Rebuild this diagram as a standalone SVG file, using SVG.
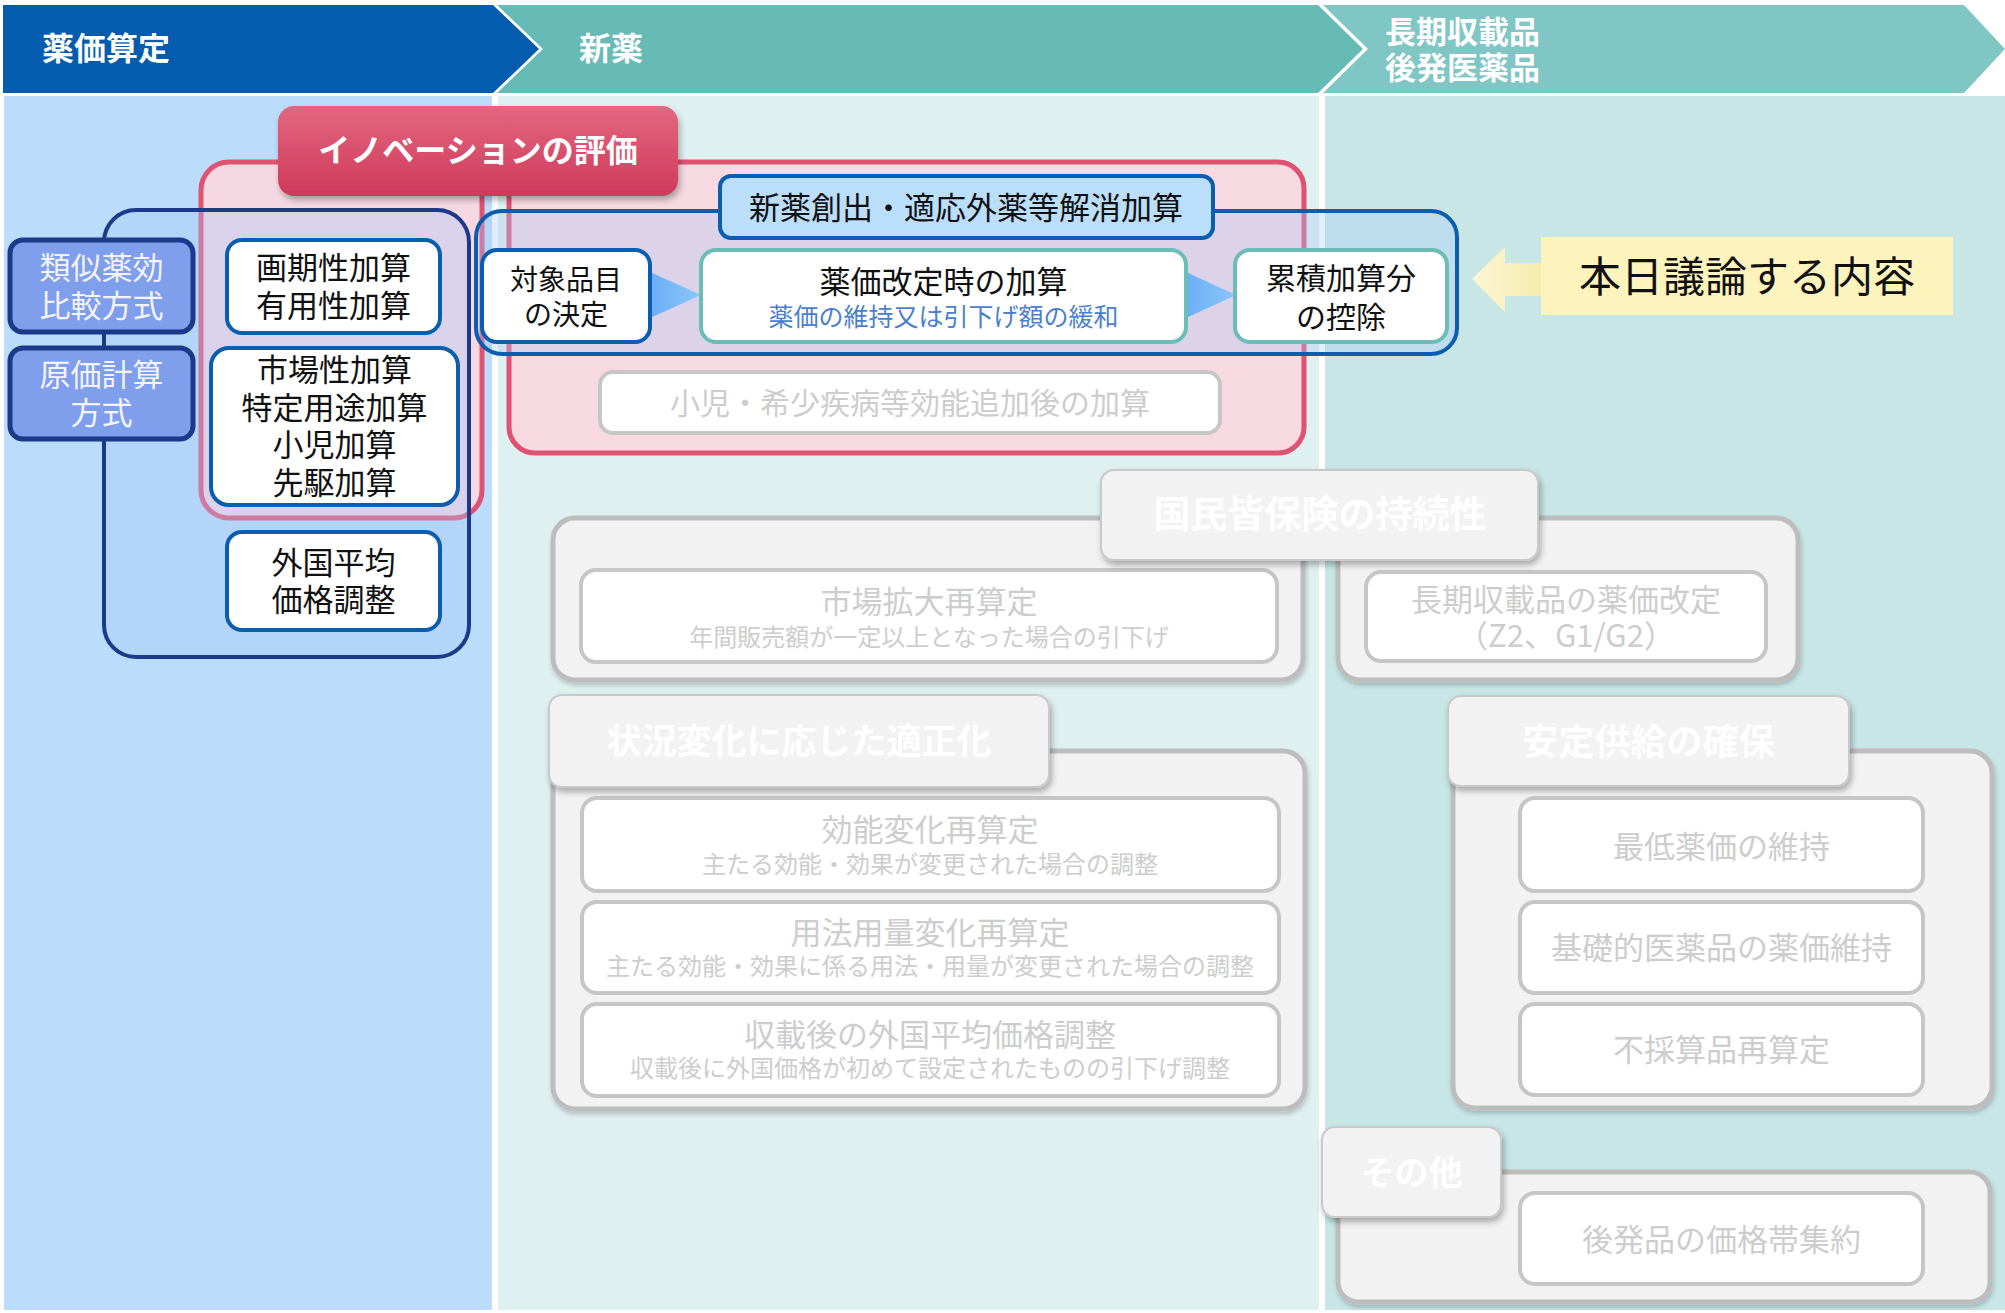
<svg xmlns="http://www.w3.org/2000/svg" width="2005" height="1313" viewBox="0 0 2005 1313">
<defs>
<style>
text{font-family:"Noto Sans CJK JP","Noto Sans",sans-serif;text-anchor:middle;}
.hd{fill:#fff;font-weight:bold;text-anchor:start;}
.b{font-weight:bold;}
.blk{fill:#111;}
.wt{fill:#f4f4ff;}
.gr{fill:#cdcdcd;}
.tabt{fill:#ffffff;font-weight:bold;}
.wbox{fill:#fff;stroke:#0b5dae;stroke-width:4;}
.tbox{fill:#fff;stroke:#6cbcb8;stroke-width:4;}
.nbox{fill:#7f9eec;stroke:#1b3a8a;stroke-width:5;}
.gbig{fill:#f2f2f2;stroke:#bdbdbd;stroke-width:5;}
.gin{fill:#fff;stroke:#c6c6c6;stroke-width:4;}
.tab{fill:#f2f2f2;stroke:#c9c9c9;stroke-width:2;}
.pink{stroke:#e05272;stroke-width:5;}
.bgrp{fill:rgba(170,200,250,0.35);}
</style>
<linearGradient id="redg" x1="0" y1="0" x2="0" y2="1">
<stop offset="0" stop-color="#e2677f"/>
<stop offset="1" stop-color="#d0395b"/>
</linearGradient>
<linearGradient id="blueArr" x1="0" y1="0" x2="1" y2="0">
<stop offset="0" stop-color="#6aaef5"/>
<stop offset="1" stop-color="#8cc6fb"/>
</linearGradient>
<linearGradient id="yelArr" x1="0" y1="0" x2="1" y2="0">
<stop offset="0" stop-color="#fbf6d6"/>
<stop offset="1" stop-color="#f6ecac"/>
</linearGradient>
<filter id="sh" x="-10%" y="-10%" width="125%" height="135%">
<feDropShadow dx="2" dy="4" stdDeviation="3" flood-color="#000" flood-opacity="0.3"/>
</filter>
<filter id="shs" x="-5%" y="-5%" width="112%" height="115%">
<feDropShadow dx="1" dy="3" stdDeviation="2" flood-color="#000" flood-opacity="0.2"/>
</filter>
</defs>
<rect x="0" y="0" width="2005" height="1313" fill="#ffffff"/>

<g id="columns">
<rect x="4" y="96" width="488" height="1214" fill="#bbdcfa"/>
<rect x="498" y="96" width="821" height="1214" fill="#dff0f0"/>
<rect x="1325" y="96" width="680" height="1214" fill="#c8e6e6"/>
</g>

<g id="header">
<g id="hdr-yakka">
<polygon points="3,5 493,5 539,49 493,93 3,93" fill="#045cae"/>
<text class="hd" x="42" y="60" font-size="32">薬価算定</text>
</g>
<g id="hdr-shinyaku">
<polygon points="497,5 1318,5 1363,49 1318,93 497,93 543,49" fill="#67bbb7"/>
<text class="hd" x="579" y="60" font-size="32">新薬</text>
</g>
<g id="hdr-choki">
<polygon points="1323,5 1964,5 2005,49 1964,93 1323,93 1368,49" fill="#80c6c4"/>
<text class="hd" x="1385" y="43" font-size="31">長期収載品</text>
<text class="hd" x="1385" y="79" font-size="31">後発医薬品</text>
</g>
</g>

<g id="innovation-areas">
<rect id="pink-left" class="pink" x="201" y="162" width="281" height="356" rx="28" fill="#f5d8e2"/>
<rect id="pink-mid" class="pink" x="509" y="162" width="795" height="291" rx="26" fill="#f7d9e2"/>
</g>

<g id="group-left">
<rect class="bgrp" x="104" y="210" width="365" height="447" rx="32" stroke="#1b3a8a" stroke-width="4"/>
</g>
<g id="group-mid">
<rect class="bgrp" x="476" y="211" width="981" height="143" rx="26" stroke="#0b5dae" stroke-width="4"/>
</g>

<g id="connectors">
<polygon points="650,272 701,295 650,318" fill="url(#blueArr)"/>
<polygon points="1186,272 1236,295 1186,318" fill="url(#blueArr)"/>
<polygon points="1472,279 1505,247 1505,263 1541,263 1541,296 1505,296 1505,312" fill="url(#yelArr)"/>
</g>

<g id="node-innovation">
<rect x="278" y="106" width="400" height="90" rx="16" fill="url(#redg)" filter="url(#sh)"/>
<text class="b" x="478" y="162" font-size="32" fill="#fff">イノベーションの評価</text>
</g>

<g id="node-ruiji">
<rect class="nbox" x="10" y="240" width="183" height="92" rx="13"/>
<text class="wt" x="101.5" y="279" font-size="31">類似薬効</text>
<text class="wt" x="101.5" y="317" font-size="31">比較方式</text>
</g>
<g id="node-genka">
<rect class="nbox" x="10" y="348" width="183" height="91" rx="13"/>
<text class="wt" x="101.5" y="386" font-size="31">原価計算</text>
<text class="wt" x="101.5" y="424" font-size="31">方式</text>
</g>
<g id="node-kakki">
<rect class="wbox" x="227" y="240" width="213" height="93" rx="15"/>
<text class="blk" x="333.5" y="279" font-size="31">画期性加算</text>
<text class="blk" x="333.5" y="317" font-size="31">有用性加算</text>
</g>
<g id="node-shijosei">
<rect class="wbox" x="211" y="348" width="247" height="157" rx="18"/>
<text class="blk" x="334.5" y="381" font-size="31">市場性加算</text>
<text class="blk" x="334.5" y="419" font-size="31">特定用途加算</text>
<text class="blk" x="334.5" y="456" font-size="31">小児加算</text>
<text class="blk" x="334.5" y="494" font-size="31">先駆加算</text>
</g>
<g id="node-gaikoku">
<rect class="wbox" x="227" y="532" width="213" height="98" rx="15"/>
<text class="blk" x="333.5" y="574" font-size="31">外国平均</text>
<text class="blk" x="333.5" y="611" font-size="31">価格調整</text>
</g>

<g id="node-shinyakusoshutsu">
<rect x="720" y="176" width="493" height="62" rx="11" fill="#bbdefb" stroke="#0b5dae" stroke-width="4"/>
<text class="blk" x="966" y="219" font-size="31">新薬創出・適応外薬等解消加算</text>
</g>
<g id="node-taisho">
<rect class="wbox" x="482" y="250" width="168" height="92" rx="15"/>
<text class="blk" x="566" y="290" font-size="28">対象品目</text>
<text class="blk" x="566" y="325" font-size="28">の決定</text>
</g>
<g id="node-kaiteiji">
<rect class="tbox" x="701" y="250" width="485" height="92" rx="15"/>
<text class="blk" x="943.5" y="293" font-size="31">薬価改定時の加算</text>
<text x="943.5" y="326" font-size="25" fill="#4a7fcf">薬価の維持又は引下げ額の緩和</text>
</g>
<g id="node-ruiseki">
<rect class="tbox" x="1235" y="250" width="212" height="92" rx="15"/>
<text class="blk" x="1341" y="289" font-size="30">累積加算分</text>
<text class="blk" x="1341" y="328" font-size="30">の控除</text>
</g>
<g id="node-shoni">
<rect class="gin" x="600" y="372" width="620" height="61" rx="13"/>
<text class="gr" x="910" y="414" font-size="30">小児・希少疾病等効能追加後の加算</text>
</g>

<g id="node-honjitsu">
<rect x="1541" y="237" width="412" height="78" fill="#fdf3bd"/>
<text class="blk" x="1747" y="292" font-size="42">本日議論する内容</text>
</g>

<g id="group-shijokakudai">
<rect class="gbig" x="553" y="518" width="750" height="162" rx="22" filter="url(#shs)"/>
<rect class="gin" x="581" y="570" width="696" height="92" rx="15"/>
<text class="gr" x="929" y="613" font-size="31">市場拡大再算定</text>
<text class="gr" x="929" y="646" font-size="24">年間販売額が一定以上となった場合の引下げ</text>
</g>
<g id="group-chokishusai">
<rect class="gbig" x="1338" y="518" width="460" height="162" rx="22" filter="url(#shs)"/>
<rect class="gin" x="1366" y="572" width="400" height="89" rx="15"/>
<text class="gr" x="1566" y="611" font-size="31">長期収載品の薬価改定</text>
<text class="gr" x="1566" y="647" font-size="31">（Z2、G1/G2）</text>
</g>
<g id="tab-kokumin">
<rect class="tab" x="1101" y="470" width="437" height="90" rx="13" filter="url(#sh)"/>
<text class="tabt" x="1320" y="528" font-size="37">国民皆保険の持続性</text>
</g>

<g id="group-tekiseika">
<rect class="gbig" x="553" y="751" width="752" height="358" rx="22" filter="url(#shs)"/>
<rect class="gin" x="582" y="798" width="697" height="93" rx="15"/>
<text class="gr" x="930" y="841" font-size="31">効能変化再算定</text>
<text class="gr" x="930" y="873" font-size="24">主たる効能・効果が変更された場合の調整</text>
<rect class="gin" x="582" y="902" width="697" height="91" rx="15"/>
<text class="gr" x="930" y="944" font-size="31">用法用量変化再算定</text>
<text class="gr" x="930" y="975" font-size="24">主たる効能・効果に係る用法・用量が変更された場合の調整</text>
<rect class="gin" x="582" y="1004" width="697" height="92" rx="15"/>
<text class="gr" x="930" y="1046" font-size="31">収載後の外国平均価格調整</text>
<text class="gr" x="930" y="1077" font-size="24">収載後に外国価格が初めて設定されたものの引下げ調整</text>
</g>
<g id="tab-tekiseika">
<rect class="tab" x="549" y="695" width="500" height="92" rx="13" filter="url(#sh)"/>
<text class="tabt" x="799" y="754" font-size="35">状況変化に応じた適正化</text>
</g>

<g id="group-antei">
<rect class="gbig" x="1453" y="751" width="539" height="357" rx="22" filter="url(#shs)"/>
<rect class="gin" x="1520" y="798" width="403" height="93" rx="15"/>
<text class="gr" x="1721.5" y="858" font-size="31">最低薬価の維持</text>
<rect class="gin" x="1520" y="902" width="403" height="91" rx="15"/>
<text class="gr" x="1721.5" y="959" font-size="31">基礎的医薬品の薬価維持</text>
<rect class="gin" x="1520" y="1004" width="403" height="91" rx="15"/>
<text class="gr" x="1721.5" y="1061" font-size="31">不採算品再算定</text>
</g>
<g id="tab-antei">
<rect class="tab" x="1448" y="696" width="401" height="90" rx="13" filter="url(#sh)"/>
<text class="tabt" x="1648.5" y="755" font-size="36">安定供給の確保</text>
</g>

<g id="group-sonota">
<rect class="gbig" x="1338" y="1172" width="652" height="130" rx="20" filter="url(#shs)"/>
<rect class="gin" x="1520" y="1193" width="403" height="91" rx="15"/>
<text class="gr" x="1721.5" y="1251" font-size="31">後発品の価格帯集約</text>
</g>
<g id="tab-sonota">
<rect class="tab" x="1322" y="1127" width="179" height="90" rx="13" filter="url(#sh)"/>
<text class="tabt" x="1411.5" y="1185" font-size="34">その他</text>
</g>
</svg>
